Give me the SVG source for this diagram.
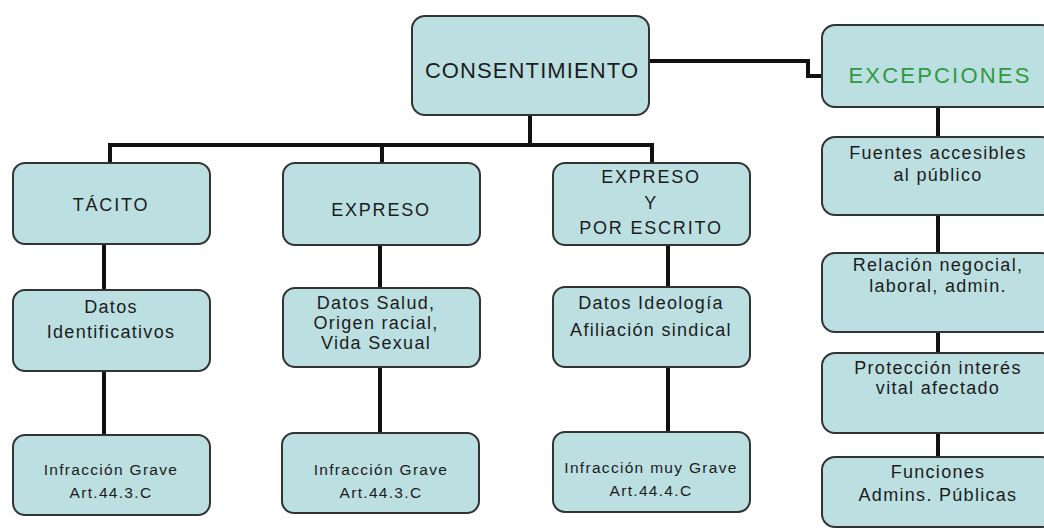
<svg xmlns="http://www.w3.org/2000/svg" width="1044" height="531" viewBox="0 0 1044 531">
  <style>
    .box { fill: #bcdfe2; stroke: #333; stroke-width: 2; }
    .t { font-family: "Liberation Sans", Arial, sans-serif; fill: #1c1c1c; text-anchor: middle; }
    .big { font-size: 22px; letter-spacing: 1.1px; }
    .mid { font-size: 18px; letter-spacing: 1.3px; }
    .sm { font-size: 15.5px; letter-spacing: 1.3px; }
    .green { fill: #2f9a3e; }
    .wire { fill: none; stroke: #111; stroke-width: 4; }
  </style>
  <rect width="1044" height="531" fill="#ffffff"/>

  <g id="connectors">
    <path class="wire" d="M530 115 V145"/>
    <path class="wire" d="M110 145 H652"/>
    <path class="wire" d="M110 143 V163 M382 143 V163 M652 143 V163"/>
    <path class="wire" d="M104 244 V290 M104 371 V435"/>
    <path class="wire" d="M380 245 V288 M380 367 V433"/>
    <path class="wire" d="M668 245 V287 M668 367 V432"/>
    <path class="wire" d="M649 61 H808 V76 H822"/>
    <path class="wire" d="M938 107 V137 M938 215 V253 M938 332 V353 M938 433 V457"/>
  </g>

  <g id="consentimiento">
    <rect class="box" x="412" y="16" width="237" height="99" rx="13"/>
    <text class="t big" x="532" y="78">CONSENTIMIENTO</text>
  </g>

  <g id="excepciones">
    <rect class="box" x="822" y="25" width="232" height="82" rx="13"/>
    <text class="t big green" x="940" y="83" style="letter-spacing:2.2px">EXCEPCIONES</text>
  </g>

  <g id="tacito">
    <rect class="box" x="13" y="163" width="197" height="81" rx="12"/>
    <text class="t mid" x="111" y="211" style="letter-spacing:1.8px">TÁCITO</text>
  </g>
  <g id="datos-identificativos">
    <rect class="box" x="13" y="290" width="197" height="81" rx="12"/>
    <text class="t mid" x="111" y="313">Datos</text>
    <text class="t mid" x="111" y="338">Identificativos</text>
  </g>
  <g id="infraccion-grave-1">
    <rect class="box" x="13" y="435" width="197" height="80" rx="12"/>
    <text class="t sm" x="111" y="475">Infracción Grave</text>
    <text class="t sm" x="111" y="498">Art.44.3.C</text>
  </g>

  <g id="expreso">
    <rect class="box" x="283" y="163" width="197" height="82" rx="12"/>
    <text class="t mid" x="381" y="216" style="letter-spacing:1.8px">EXPRESO</text>
  </g>
  <g id="datos-salud">
    <rect class="box" x="283" y="288" width="197" height="79" rx="12"/>
    <text class="t mid" x="376" y="309">Datos Salud,</text>
    <text class="t mid" x="376" y="329">Origen racial,</text>
    <text class="t mid" x="376" y="349">Vida Sexual</text>
  </g>
  <g id="infraccion-grave-2">
    <rect class="box" x="282" y="433" width="197" height="80" rx="12"/>
    <text class="t sm" x="381" y="475">Infracción Grave</text>
    <text class="t sm" x="381" y="498">Art.44.3.C</text>
  </g>

  <g id="expreso-escrito">
    <rect class="box" x="553" y="163" width="197" height="82" rx="12"/>
    <text class="t mid" x="651" y="183" style="letter-spacing:1.8px">EXPRESO</text>
    <text class="t mid" x="651" y="209">Y</text>
    <text class="t mid" x="651" y="234" style="letter-spacing:1.8px">POR ESCRITO</text>
  </g>
  <g id="datos-ideologia">
    <rect class="box" x="553" y="287" width="197" height="80" rx="12"/>
    <text class="t mid" x="651" y="309">Datos Ideología</text>
    <text class="t mid" x="651" y="336">Afiliación sindical</text>
  </g>
  <g id="infraccion-muy-grave">
    <rect class="box" x="553" y="432" width="197" height="80" rx="12"/>
    <text class="t sm" x="651" y="473">Infracción muy Grave</text>
    <text class="t sm" x="651" y="496">Art.44.4.C</text>
  </g>

  <g id="fuentes">
    <rect class="box" x="822" y="137" width="232" height="78" rx="13"/>
    <text class="t mid" x="938" y="159">Fuentes accesibles</text>
    <text class="t mid" x="938" y="181">al público</text>
  </g>
  <g id="relacion">
    <rect class="box" x="822" y="253" width="232" height="79" rx="13"/>
    <text class="t mid" x="938" y="271">Relación negocial,</text>
    <text class="t mid" x="938" y="292">laboral, admin.</text>
  </g>
  <g id="proteccion">
    <rect class="box" x="822" y="353" width="232" height="80" rx="13"/>
    <text class="t mid" x="938" y="374">Protección interés</text>
    <text class="t mid" x="938" y="394">vital afectado</text>
  </g>
  <g id="funciones">
    <rect class="box" x="822" y="457" width="232" height="70" rx="13"/>
    <text class="t mid" x="938" y="478">Funciones</text>
    <text class="t mid" x="938" y="501">Admins. Públicas</text>
  </g>
</svg>
